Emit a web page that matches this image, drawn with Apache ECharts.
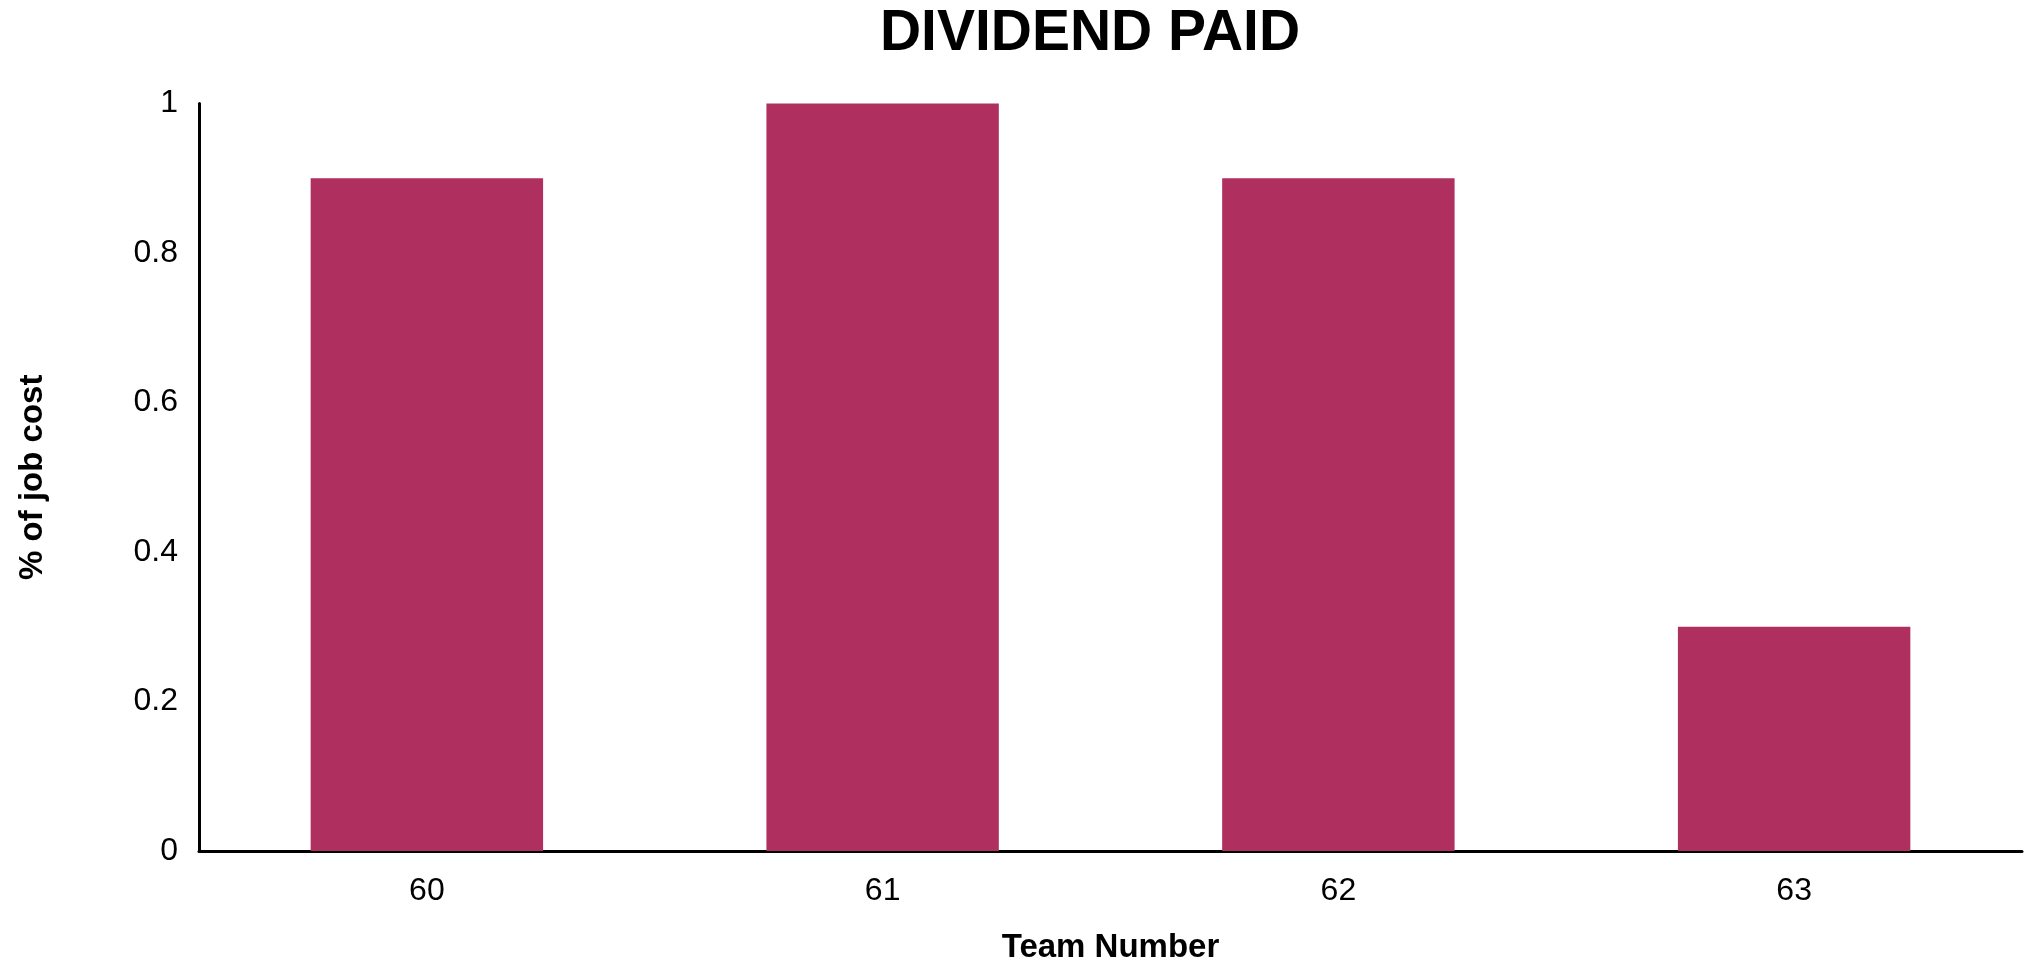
<!DOCTYPE html>
<html>
<head>
<meta charset="utf-8">
<title>Dividend Paid</title>
<script src="https://cdn.jsdelivr.net/npm/echarts@6/dist/echarts.min.js"></script>
<style>
  html, body { margin: 0; padding: 0; background: #fff; }
  #chart { width: 2028px; height: 963px; }
</style>
</head>
<body>
<div id="chart"></div>
<script>
// 数据
const teams = ['60', '61', '62', '63'];
const dividendPaid = [0.9, 1, 0.9, 0.3];
const yTicks = { min: 0, max: 1, interval: 0.2 };

const font = '"Liberation Sans", Arial, sans-serif';

const chart = echarts.init(document.getElementById('chart'));
chart.setOption({
  animation: false,
  title: {
    text: 'DIVIDEND PAID',
    left: 1085,
    top: 1,
    textAlign: 'center',
    textStyle: { fontFamily: font, fontSize: 57, fontWeight: 'bold', color: '#000' },
  },
  grid: { left: 199, right: 6, top: 103.5, bottom: 112, containLabel: false, outerBoundsMode: 'none' },
  xAxis: {
    type: 'category',
    data: teams,
    name: 'Team Number',
    nameLocation: 'middle',
    nameGap: 80,
    nameTextStyle: { fontFamily: font, fontSize: 33, fontWeight: 'bold', color: '#000' },
    axisLine: { show: true, lineStyle: { color: '#000', width: 3 } },
    axisTick: { show: false },
    axisLabel: { fontFamily: font, fontSize: 32, color: '#000', margin: 24 },
  },
  yAxis: {
    type: 'value',
    min: yTicks.min,
    max: yTicks.max,
    interval: yTicks.interval,
    name: '% of job cost',
    nameLocation: 'middle',
    nameGap: 150,
    nameRotate: 90,
    nameTextStyle: { fontFamily: font, fontSize: 33, fontWeight: 'bold', color: '#000' },
    axisLine: { show: true, lineStyle: { color: '#000', width: 3 } },
    axisTick: { show: false },
    splitLine: { show: false },
    axisLabel: { fontFamily: font, fontSize: 32, color: '#000', margin: 21 },
  },
  series: [{
    type: 'bar',
    data: dividendPaid,
    barCategoryGap: '49%',
    itemStyle: { color: '#AF305E' },
  }],
});
</script>
</body>
</html>
